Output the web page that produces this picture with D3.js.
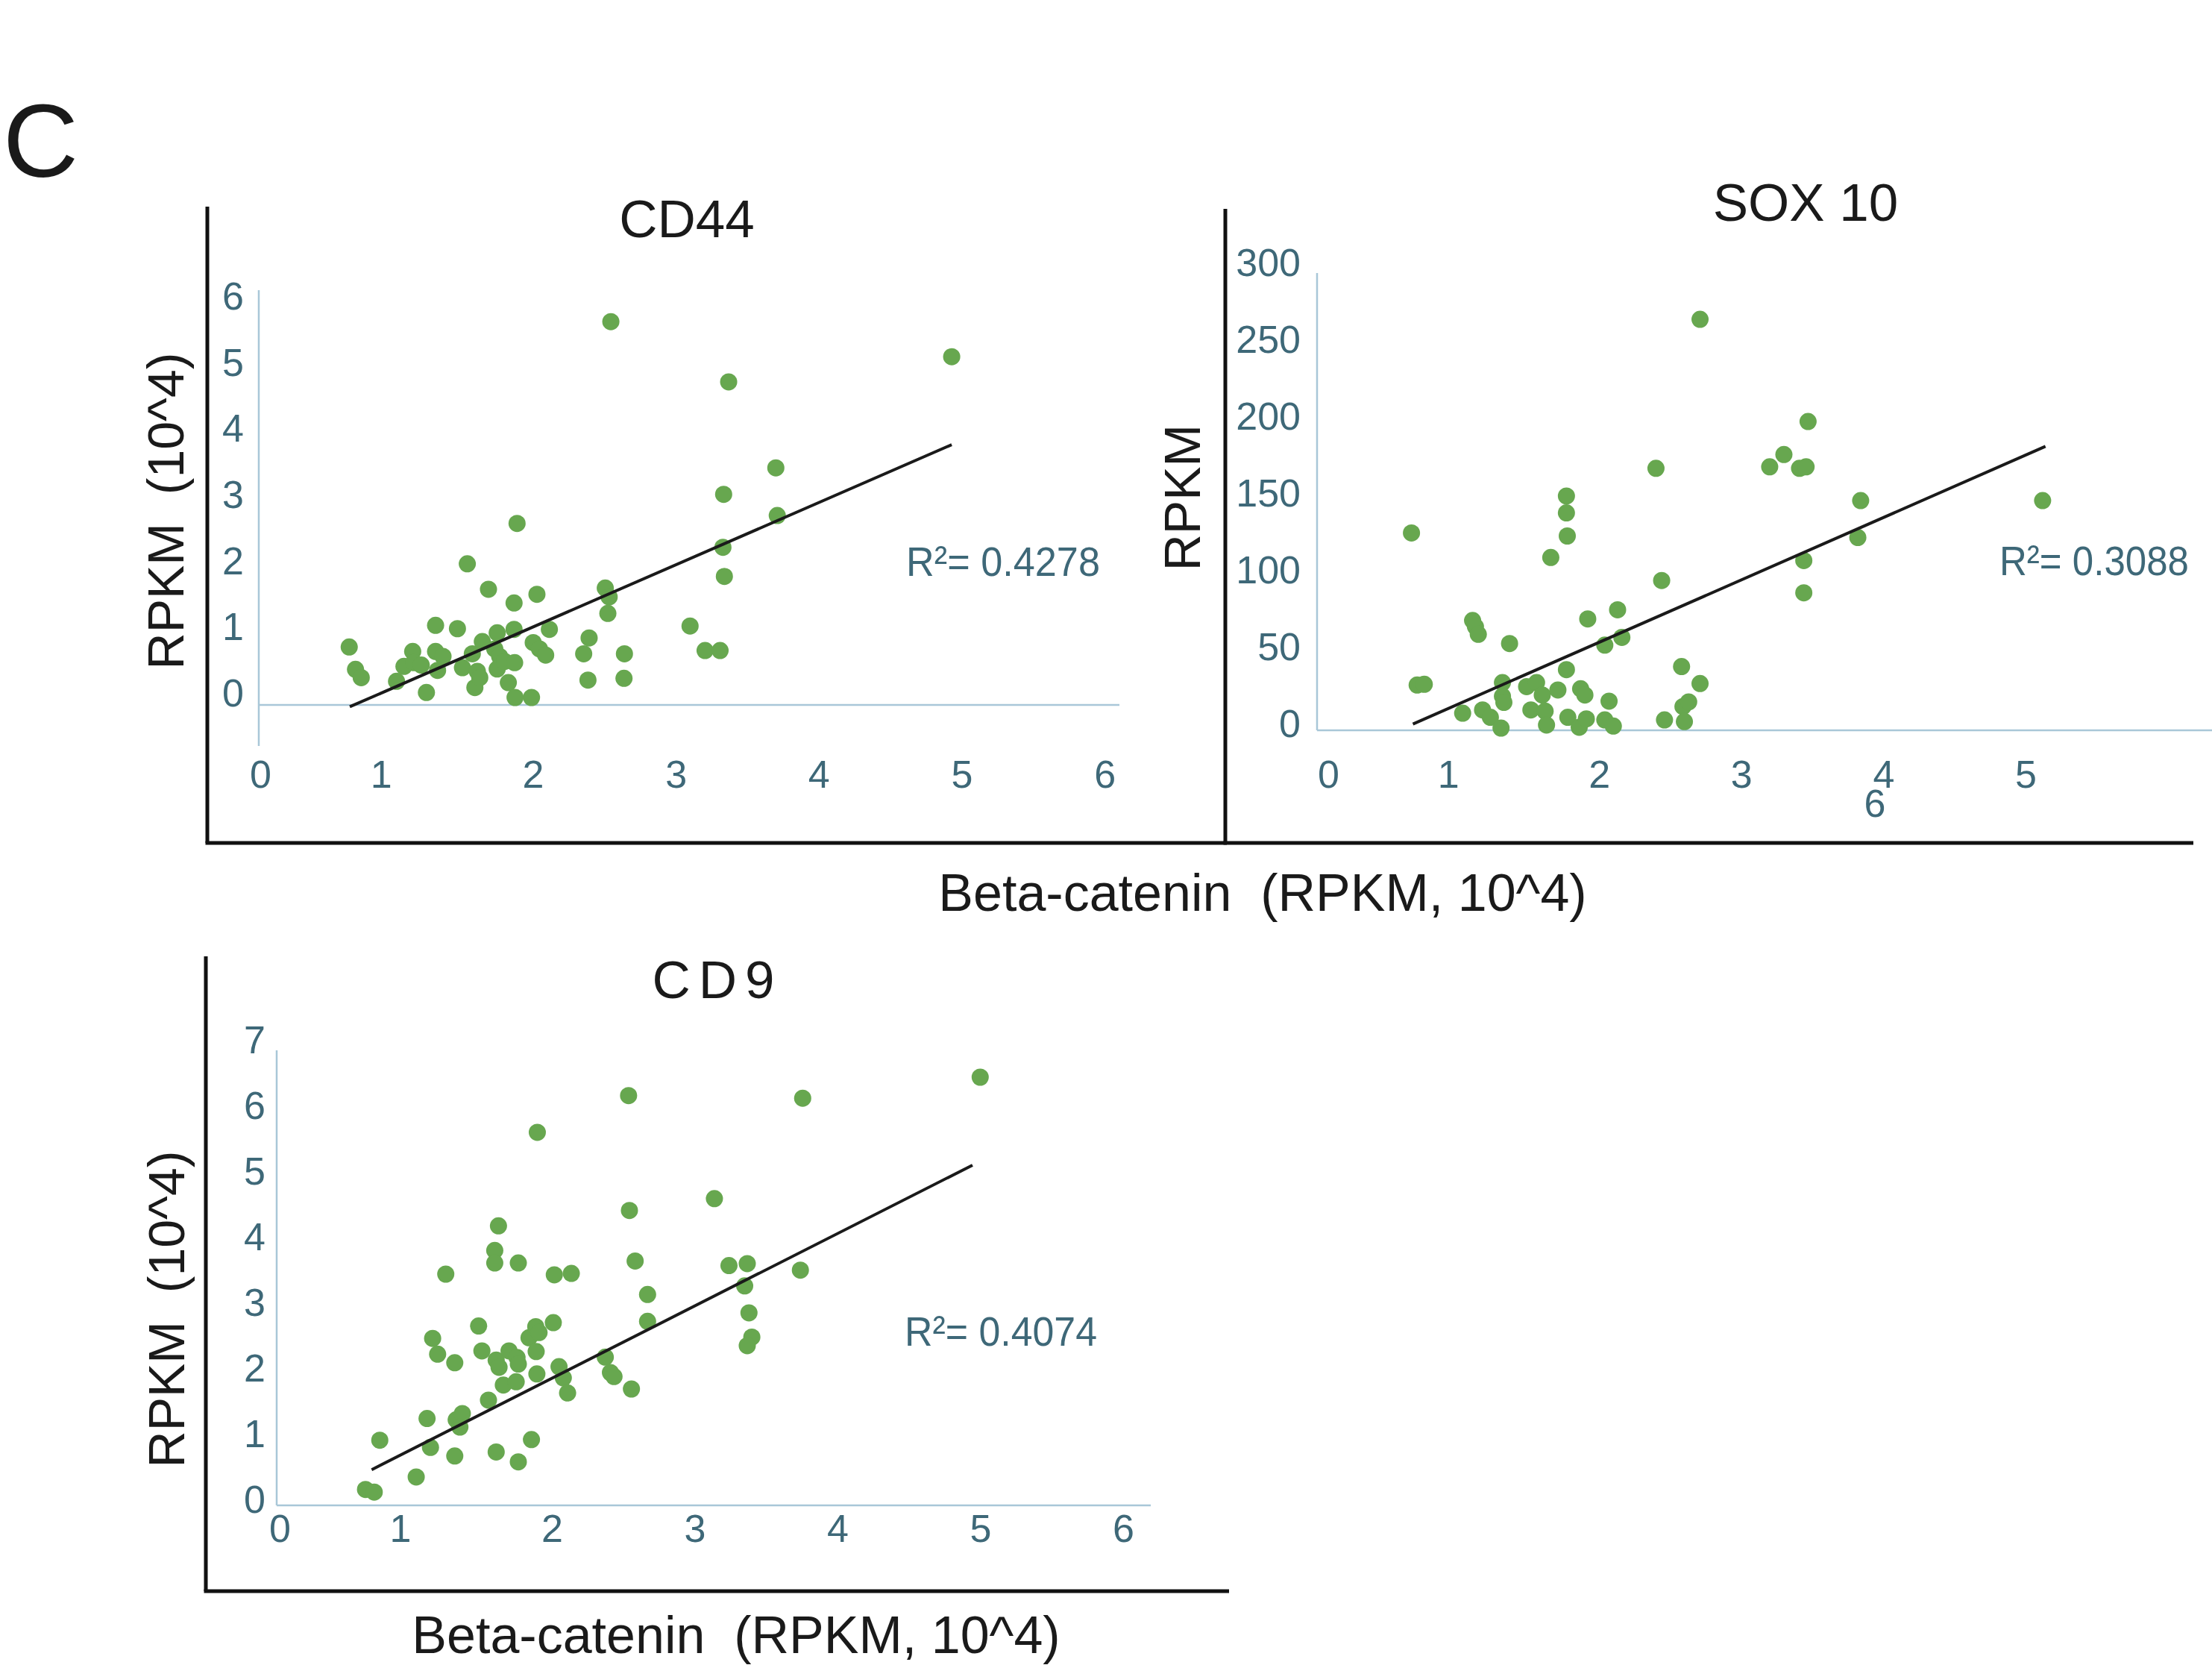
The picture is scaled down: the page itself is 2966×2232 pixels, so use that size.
<!DOCTYPE html>
<html>
<head>
<meta charset="utf-8">
<script src="https://cdn.jsdelivr.net/npm/d3@7"></script>
<style>
  html, body { margin: 0; padding: 0; background: #ffffff; }
  svg { display: block; }
  text { font-family: "Liberation Sans", Arial, "DejaVu Sans", sans-serif; }
</style>
</head>
<body>
<svg id="chart" width="2966" height="2232"></svg>
<script>
// ---------------- DATA ----------------
// CD44 vs Beta-catenin (RPKM, 10^4)
const cd44X = [0.716,0.760,0.800,1.047,1.160,1.099,1.168,1.220,1.256,1.320,1.320,1.372,1.334,1.473,1.542,1.508,1.577,1.612,1.595,1.647,1.629,1.690,1.751,1.734,1.768,1.751,1.803,1.869,1.869,1.890,1.873,1.829,1.876,1.991,2.029,2.003,2.047,2.090,2.116,2.356,2.394,2.386,2.507,2.534,2.525,2.641,2.638,
  3.370,4.930,3.700,3.335,3.710,3.330,3.340,3.100,3.205,3.310,2.546];
const cd44Y = [0.763,0.425,0.300,0.245,0.695,0.470,0.526,0.490,0.075,1.090,0.695,0.620,0.410,1.040,2.020,0.450,0.660,0.395,0.150,0.845,0.300,1.635,0.977,0.733,0.620,0.430,0.545,1.428,1.030,2.630,0.526,0.225,0.000,0.000,1.560,0.830,0.733,0.640,1.030,0.660,0.900,0.263,1.654,1.520,1.270,0.660,0.290,
  4.770,5.150,3.470,3.070,2.750,2.270,1.830,1.080,0.710,0.710,5.680];

// SOX 10 vs Beta-catenin
const sox10X = [0.68,0.72,0.77,1.04,1.11,1.13,1.15,1.18,1.235,1.31,1.32,1.32,1.33,1.37,1.49,1.56,1.52,1.60,1.62,1.63,1.71,1.66,1.77,1.77,1.776,1.77,1.78,1.87,1.90,1.86,1.91,1.92,2.04,2.10,2.07,2.04,2.13,2.16,2.40,2.44,2.46,2.58,2.59,2.63,2.60,2.71,
  2.71,3.47,3.30,3.20,3.41,3.456,3.84,3.82,3.44,3.44,5.12];
const sox10Y = [127,28,28.5,9.7,70,66,61,11.8,7,0,29.6,20.7,16.7,55,27,29.6,11.8,21.5,11,2,24.8,111,151,140,125,38,7,25.6,21.5,0.5,6,71,5.3,1.3,17.5,54,77,59,169,96,5.3,40,14,17,4.2,29,
  266,199.5,178,170,169,170,148,124,109,88,148];

// CD9 vs Beta-catenin
const cd9X = [0.695,0.756,0.795,1.050,1.126,1.150,1.165,1.200,1.257,1.320,1.320,1.330,1.373,1.356,1.487,1.510,1.556,1.626,1.600,1.600,1.610,1.630,1.610,1.660,1.700,1.765,1.756,1.765,1.750,1.765,1.840,1.887,1.910,1.890,1.895,1.857,2.010,2.050,2.080,2.110,2.017,2.136,2.374,2.410,2.435,2.557,2.670,2.670,2.583,2.543,
  1.898,2.537,3.756,4.999,3.138,3.240,3.368,3.740,3.350,3.380,3.400,3.368];
const cd9Y = [0.22,0.18,0.97,0.41,1.30,0.86,2.52,2.28,3.50,2.15,0.73,1.28,1.375,1.17,2.71,2.33,1.58,4.235,3.86,3.67,2.19,2.08,0.79,1.81,2.33,3.67,2.23,2.13,1.86,0.64,2.53,2.70,2.61,2.32,1.98,0.98,2.76,2.09,1.92,1.69,3.49,3.51,2.235,2.00,1.94,1.75,3.19,2.78,3.70,4.47,
  5.66,6.22,6.18,6.50,4.65,3.63,3.66,3.56,3.32,2.91,2.54,2.41];

// linear trend lines (data units: [x, y] start and end)
const cd44Trend = [[0.72, -0.14], [4.93, 3.82]];
const sox10Trend = [[0.69, 2.6], [5.14, 183.3]];
const cd9Trend = [[0.738, 0.52], [4.945, 5.16]];

// R-squared labels
const cd44R2 = "R\u00B2= 0.4278";
const sox10R2 = "R\u00B2= 0.3088";
const cd9R2 = "R\u00B2= 0.4074";

// tick values
const cd44XTicks = [0,1,2,3,4,5,6];
const cd44YTicks = [0,1,2,3,4,5,6];
const sox10XTicks = [0,1,2,3,4,5];
const sox10StrayTick = "6";
const sox10YTicks = [0,50,100,150,200,250,300];
const cd9XTicks = [0,1,2,3,4,5,6];
const cd9YTicks = [0,1,2,3,4,5,6,7];

// titles
const panelLabel = "C";
const cd44Title = "CD44";
const sox10Title = "SOX 10";
const cd9Title = "CD9";
const yTitle1 = "RPKM  (10^4)";
const yTitle2 = "RPKM";
const xTitle = "Beta-catenin  (RPKM, 10^4)";

// ---------------- DRAW ----------------
const svg = d3.select("#chart");
const dotColor = "#67a74f";
const tickColor = "#3e6878";
const innerAxisColor = "#a9c7d8";
// small horizontal nudges of the first two x tick labels, as in the source figure
const xLabelNudge = {0: 18, 1: -12};

svg.append("text").attr("x", 4).attr("y", 237)
  .attr("font-size", 140).attr("fill", "#1a1a1a").text(panelLabel);

function panel(cfg) {
  const g = svg.append("g");
  const x = d3.scaleLinear().domain(cfg.xDomain).range(cfg.xRange);
  const y = d3.scaleLinear().domain(cfg.yDomain).range(cfg.yRange);

  // outer black L-frame
  g.append("line").attr("x1", cfg.outer.x).attr("x2", cfg.outer.x)
    .attr("y1", cfg.outer.top).attr("y2", cfg.outer.bottom)
    .attr("stroke", "#111").attr("stroke-width", 5);
  g.append("line").attr("x1", cfg.outer.x - 2.5).attr("x2", cfg.outer.right)
    .attr("y1", cfg.outer.bottom).attr("y2", cfg.outer.bottom)
    .attr("stroke", "#111").attr("stroke-width", 5);

  // inner light axis lines
  g.append("line").attr("x1", cfg.innerV.x).attr("x2", cfg.innerV.x)
    .attr("y1", cfg.innerV.y1).attr("y2", cfg.innerV.y2)
    .attr("stroke", innerAxisColor).attr("stroke-width", 2.5);
  g.append("line").attr("x1", cfg.innerH.x1).attr("x2", cfg.innerH.x2)
    .attr("y1", cfg.innerH.y).attr("y2", cfg.innerH.y)
    .attr("stroke", innerAxisColor).attr("stroke-width", 2.5);

  // y axis labels
  const ya = g.append("g").attr("transform", `translate(${cfg.yAxisX},-5)`)
    .call(d3.axisLeft(y).tickValues(cfg.yTicks).tickSize(0).tickPadding(0).tickFormat(d3.format("d")));
  ya.select(".domain").remove();
  ya.selectAll("text").attr("font-size", 52).attr("fill", tickColor)
    .attr("font-family", "Liberation Sans, Arial, sans-serif");

  // x axis labels
  const xa = g.append("g").attr("transform", `translate(0,${cfg.xAxisY})`)
    .call(d3.axisBottom(x).tickValues(cfg.xTicks).tickSize(0).tickPadding(0).tickFormat(d3.format("d")));
  xa.select(".domain").remove();
  xa.selectAll("text").attr("font-size", 52).attr("fill", tickColor)
    .attr("font-family", "Liberation Sans, Arial, sans-serif")
    .attr("dx", d => xLabelNudge[d] || 0);

  // dots
  const pts = cfg.xs.map((v, i) => ({x: v, y: cfg.ys[i]}));
  g.append("g").selectAll("circle").data(pts).join("circle")
    .attr("cx", d => x(d.x)).attr("cy", d => y(d.y)).attr("r", 11.5)
    .attr("fill", dotColor);

  // trend line
  g.append("path").datum(cfg.trend)
    .attr("d", d3.line().x(d => x(d[0])).y(d => y(d[1])))
    .attr("stroke", "#1a1a1a").attr("stroke-width", 4).attr("fill", "none");

  // R^2
  g.append("text").attr("x", cfg.r2.x).attr("y", cfg.r2.y)
    .attr("font-size", 56).attr("fill", tickColor)
    .attr("textLength", cfg.r2.len).attr("lengthAdjust", "spacingAndGlyphs")
    .text(cfg.r2Text);

  // title
  g.append("text").attr("x", cfg.title.x).attr("y", cfg.title.y)
    .attr("text-anchor", "middle").attr("font-size", 71).attr("fill", "#1a1a1a")
    .attr("letter-spacing", cfg.title.ls || 0)
    .text(cfg.titleText);

  // y title
  g.append("text")
    .attr("transform", `translate(${cfg.ytitle.x},${cfg.ytitle.y}) rotate(-90)`)
    .attr("text-anchor", "middle").attr("font-size", 68).attr("fill", "#1a1a1a")
    .style("white-space", "pre")
    .text(cfg.ytitleText);

  return {x, y, g};
}

panel({
  xDomain: [0, 6], xRange: [331, 1481.2],
  yDomain: [0, 6], yRange: [935, 402.8],
  xTicks: cd44XTicks, yTicks: cd44YTicks,
  yAxisX: 327, xAxisY: 1019,
  innerV: {x: 347, y1: 389, y2: 1000}, innerH: {y: 945, x1: 347, x2: 1501},
  outer: {x: 278, top: 277, bottom: 1130, right: 1645},
  xs: cd44X, ys: cd44Y, trend: cd44Trend,
  r2: {x: 1215, y: 772, len: 260}, r2Text: cd44R2,
  title: {x: 921, y: 318}, titleText: cd44Title,
  ytitle: {x: 246, y: 685}, ytitleText: yTitle1
});

const sox = panel({
  xDomain: [0, 6], xRange: [1763, 2906.6],
  yDomain: [0, 300], yRange: [976, 358],
  xTicks: sox10XTicks, yTicks: sox10YTicks,
  yAxisX: 1744, xAxisY: 1019,
  innerV: {x: 1766, y1: 366, y2: 979}, innerH: {y: 979, x1: 1766, x2: 2966},
  outer: {x: 1643, top: 280, bottom: 1130, right: 2941},
  xs: sox10X, ys: sox10Y, trend: sox10Trend,
  r2: {x: 2681, y: 771, len: 254}, r2Text: sox10R2,
  title: {x: 2421, y: 296}, titleText: sox10Title,
  ytitle: {x: 1609, y: 667}, ytitleText: yTitle2
});
// stray "6" label placed under the "4" tick
sox.g.append("text").attr("x", sox.x(3.94)).attr("y", 1095)
  .attr("text-anchor", "middle").attr("font-size", 52).attr("fill", tickColor)
  .text(sox10StrayTick);

panel({
  xDomain: [0, 6], xRange: [357, 1506],
  yDomain: [0, 7], yRange: [2016, 1400],
  xTicks: cd9XTicks, yTicks: cd9YTicks,
  yAxisX: 356, xAxisY: 2030,
  innerV: {x: 371, y1: 1408, y2: 2018}, innerH: {y: 2018, x1: 371, x2: 1543},
  outer: {x: 276, top: 1282, bottom: 2133, right: 1648},
  xs: cd9X, ys: cd9Y, trend: cd9Trend,
  r2: {x: 1213, y: 1804, len: 258}, r2Text: cd9R2,
  title: {x: 962, y: 1338, ls: 11}, titleText: cd9Title,
  ytitle: {x: 247, y: 1755}, ytitleText: yTitle1
});

// shared x titles
svg.append("text").attr("x", 1693).attr("y", 1221).attr("text-anchor", "middle")
  .attr("font-size", 70).attr("fill", "#1a1a1a").style("white-space", "pre").text(xTitle);
svg.append("text").attr("x", 987).attr("y", 2216).attr("text-anchor", "middle")
  .attr("font-size", 70).attr("fill", "#1a1a1a").style("white-space", "pre").text(xTitle);
</script>
</body>
</html>
